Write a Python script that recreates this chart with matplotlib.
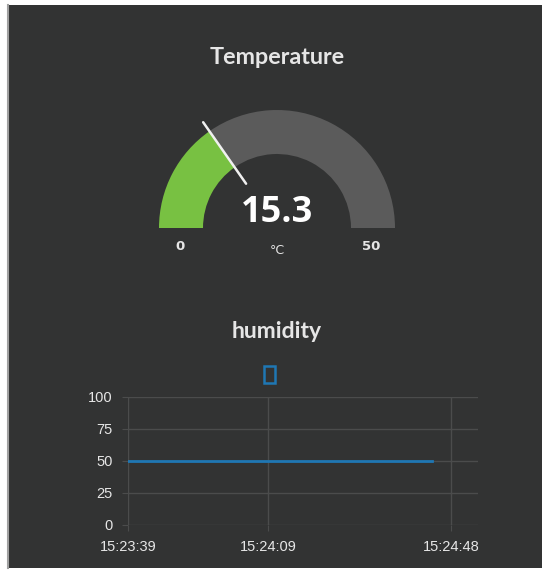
import numpy as np
import pandas as pd
import matplotlib
matplotlib.use('Agg')
import matplotlib.pyplot as plt
import matplotlib.dates as mdates
from matplotlib.patches import Wedge, Rectangle

# gauge data
gauge_title = 'Temperature'
gauge_value = 15.3
gauge_min = 0
gauge_max = 50
gauge_units = '°C'

# chart data
chart_title = 'humidity'
times = ['15:23:39', '15:23:54', '15:24:09', '15:24:24', '15:24:44']
humidity = [50, 50, 50, 50, 50]
xtick_times = ['15:23:39', '15:24:09', '15:24:48']
yticks = [0, 25, 50, 75, 100]

bg = '#323333'
txt = '#e6e6e6'
grid_c = '#4b4c4c'
green = '#78c142'
arc_gray = '#5b5b5b'
blue = '#1f77b4'

W, H = 542, 571
fig = plt.figure(figsize=(W / 100, H / 100), dpi=100)
fig.patch.set_facecolor('white')

ax0 = fig.add_axes([0, 0, 1, 1])
ax0.set_xlim(0, W)
ax0.set_ylim(H, 0)
ax0.axis('off')
ax0.add_patch(Rectangle((8, 5), W - 8, 563, facecolor=bg, edgecolor='none'))
ax0.plot([8, 8], [5, 568], color='#a0a0a0', lw=1.5)

# gauge
cx, cy = 277, 228
r_out, r_in = 118, 74
frac = (gauge_value - gauge_min) / (gauge_max - gauge_min)
ang = 180 + frac * 180
ax0.add_patch(Wedge((cx, cy), r_out, 180, ang, width=r_out - r_in, facecolor=green, edgecolor='none'))
ax0.add_patch(Wedge((cx, cy), r_out, ang, 360, width=r_out - r_in, facecolor=arc_gray, edgecolor='none'))
t = np.deg2rad(ang)
ax0.plot([cx + 54 * np.cos(t), cx + 129 * np.cos(t)], [cy + 54 * np.sin(t), cy + 129 * np.sin(t)],
         color='#f0f0f0', lw=1.8, solid_capstyle='round')

ax0.text(cx, 57, gauge_title, ha='center', va='center', fontsize=16.8, fontweight='bold', color=txt, family='Lato')
ax0.text(cx, 213, f'{gauge_value}', ha='center', va='center', fontsize=26, fontweight='bold', color='white', family='Open Sans')
ax0.text(cx, 250, gauge_units, ha='center', va='center', fontsize=9, color=txt)
ax0.text(cx - (r_out + r_in) / 2 - 1, 246, str(gauge_min), ha='center', va='center', fontsize=9.5, fontweight='bold', color=txt)
ax0.text(cx + (r_out + r_in) / 2 - 2, 246, str(gauge_max), ha='center', va='center', fontsize=9.5, fontweight='bold', color=txt)

# line chart
ax0.text(cx, 331, chart_title, ha='center', va='center', fontsize=16.5, fontweight='bold', color=txt, family='Lato')
ax0.add_patch(Rectangle((264, 366), 11, 17, facecolor='none', edgecolor=blue, lw=1.8))

tt = pd.to_datetime(times, format='%H:%M:%S')
xt = pd.to_datetime(xtick_times, format='%H:%M:%S')

ax = fig.add_axes([128 / W, 46 / H, 350 / W, 128 / H])
ax.patch.set_alpha(0)
ax.plot(tt, humidity, color=blue, lw=2)
ax.set_xlim(tt[0], tt[0] + pd.Timedelta(seconds=74.8))
ax.set_ylim(0, 100)
ax.set_yticks(yticks)
ax.set_xticks(xt)
ax.xaxis.set_major_formatter(mdates.DateFormatter('%H:%M:%S'))
for s in ax.spines.values():
    s.set_visible(False)
ax.grid(True, color=grid_c, lw=1)
ax.set_axisbelow(True)
ax.tick_params(colors=grid_c, labelcolor=txt, length=4, labelsize=10.5)
ax.tick_params(axis='y', pad=7)
ax.tick_params(axis='x', pad=7)
for lab in ax.get_xticklabels() + ax.get_yticklabels():
    lab.set_family('Liberation Sans')

fig.savefig('out.png', dpi=100, facecolor='white')
